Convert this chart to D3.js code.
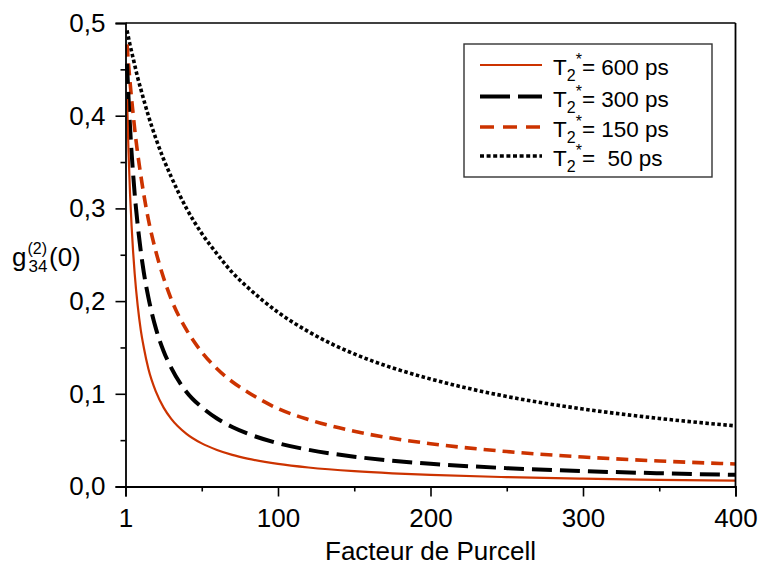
<!DOCTYPE html>
<html><head><meta charset="utf-8">
<script src="https://cdn.jsdelivr.net/npm/d3@7"></script>
<style>
html,body{margin:0;padding:0;background:#fff;}
svg{display:block;font-family:"Liberation Sans",Arial,sans-serif;}
</style></head>
<body><svg id="c" width="767" height="567"></svg>
<script>
// Purcell factor sample points
const purcell = [1,2,3,4,5,6,8,10,12,15,20,25,30,40,50,60,70,80,100,120,150,175,200,250,300,350,400];
// g34(2)(0)
const t600 = [0.418,0.360,0.315,0.281,0.253,0.230,0.195,0.169,0.150,0.127,0.102,0.0851,0.0730,0.0568,0.0465,0.0394,0.0341,0.0301,0.0244,0.0205,0.0165,0.0142,0.0125,0.0101,0.0084,0.0072,0.0063];
const t300 = [0.456,0.419,0.387,0.360,0.337,0.316,0.282,0.254,0.231,0.204,0.170,0.146,0.128,0.102,0.0855,0.0733,0.0642,0.0571,0.0467,0.0396,0.0322,0.0278,0.0245,0.0198,0.0166,0.0143,0.0126];
const t150 = [0.477,0.455,0.436,0.418,0.402,0.386,0.359,0.336,0.315,0.288,0.253,0.225,0.202,0.169,0.145,0.127,0.113,0.102,0.0840,0.0722,0.0595,0.0520,0.0462,0.0377,0.0318,0.0275,0.0243];
const t50  = [0.492,0.484,0.476,0.469,0.462,0.455,0.441,0.429,0.417,0.400,0.375,0.353,0.334,0.300,0.273,0.251,0.231,0.215,0.188,0.167,0.143,0.128,0.116,0.0971,0.0836,0.0734,0.0654];
const seriesNames = ["= 600 ps","= 300 ps","= 150 ps","=  50 ps"];
const xTickValues = [0,100,200,300,400];
const xTickLabels = ["1","100","200","300","400"];
const yTickValues = [0,0.1,0.2,0.3,0.4,0.5];

const RED = "#cc3300";
const styles = [
  {data:t600, color:RED, width:2.2, dash:null, legDash:null},
  {data:t300, color:"#000", width:4, dash:"20,8", legDash:"30,8"},
  {data:t150, color:RED, width:3.6, dash:"12,7", legDash:"14,9"},
  {data:t50,  color:"#000", width:3.6, dash:"3.5,2.5", legDash:"4,2.6"}
];

const svg = d3.select("#c");
const L=125.5, R=735.5, T=23, B=486.5;
const x = d3.scaleLinear().domain([0,400]).range([L,R]);
const y = d3.scaleLinear().domain([0,0.5]).range([B,T]);

// curves
const line = d3.line().x(d=>x(d[0])).y(d=>y(d[1])).curve(d3.curveMonotoneX);
styles.slice().reverse().forEach(s=>{
  svg.append("path")
    .attr("d", line(purcell.map((f,i)=>[f,s.data[i]])))
    .attr("fill","none").attr("stroke",s.color).attr("stroke-width",s.width)
    .attr("stroke-dasharray",s.dash).attr("stroke-linecap","butt");
});

// axes
const fmt = v=>d3.format(".1f")(v).replace(".",",");
const yAxis = svg.append("g").attr("transform",`translate(${L},0)`)
  .call(d3.axisLeft(y).tickValues(yTickValues).tickSize(10).tickPadding(10).tickFormat(fmt));
const yMinor = svg.append("g").attr("transform",`translate(${L},0)`)
  .call(d3.axisLeft(y).tickValues([0.05,0.15,0.25,0.35,0.45]).tickSize(5).tickFormat(""));
const xAxis = svg.append("g").attr("transform",`translate(0,${B})`)
  .call(d3.axisBottom(x).tickValues(xTickValues).tickSize(10).tickPadding(12).tickFormat((d,i)=>xTickLabels[i]));
const xMinor = svg.append("g").attr("transform",`translate(0,${B})`)
  .call(d3.axisBottom(x).tickValues([50,150,250,350]).tickSize(5).tickFormat(""));
[yAxis,yMinor,xAxis,xMinor].forEach(g=>{
  g.select(".domain").attr("stroke","#000").attr("stroke-width",1.8);
  g.selectAll(".tick line").attr("stroke","#000").attr("stroke-width",1.6);
  g.selectAll(".tick text").attr("font-size",26).attr("fill","#000")
   .attr("font-family","'Liberation Sans',Arial,sans-serif");
});
yMinor.select(".domain").remove(); xMinor.select(".domain").remove();
// frame top & right
svg.append("line").attr("x1",L).attr("x2",R).attr("y1",T).attr("y2",T).attr("stroke","#000").attr("stroke-width",1.6);
svg.append("line").attr("x1",R).attr("x2",R).attr("y1",T).attr("y2",B).attr("stroke","#000").attr("stroke-width",1.8);

// axis titles
svg.append("text").attr("x",(L+R)/2).attr("y",560).attr("text-anchor","middle")
  .attr("font-size",26).text("Facteur de Purcell");
const yl = svg.append("g");
yl.append("text").attr("x",12).attr("y",266).attr("font-size",26).text("g");
yl.append("text").attr("x",27.5).attr("y",254).attr("font-size",16).text("(2)");
yl.append("text").attr("x",28.5).attr("y",272).attr("font-size",17).text("34");
yl.append("text").attr("x",49).attr("y",266).attr("font-size",26).text("(0)");

// legend
const lg = svg.append("g");
lg.append("rect").attr("x",464).attr("y",44).attr("width",248).attr("height",133)
  .attr("fill","#fff").attr("stroke","#333").attr("stroke-width",1.4);
const rowY = [65,96.5,127,156];
styles.forEach((s,i)=>{
  lg.append("line").attr("x1",480).attr("x2",542).attr("y1",rowY[i]).attr("y2",rowY[i])
    .attr("stroke",s.color).attr("stroke-width",s.width).attr("stroke-dasharray",s.legDash);
  const t = lg.append("text").attr("x",553).attr("y",rowY[i]+10).attr("font-size",22.5)
    .style("white-space","pre");
  t.append("tspan").text("T");
  t.append("tspan").attr("dy",6).attr("font-size",16).text("2");
  t.append("tspan").attr("dy",-16).attr("font-size",16).text("*");
  t.append("tspan").attr("dy",10).text(seriesNames[i]);
});
</script></body></html>
